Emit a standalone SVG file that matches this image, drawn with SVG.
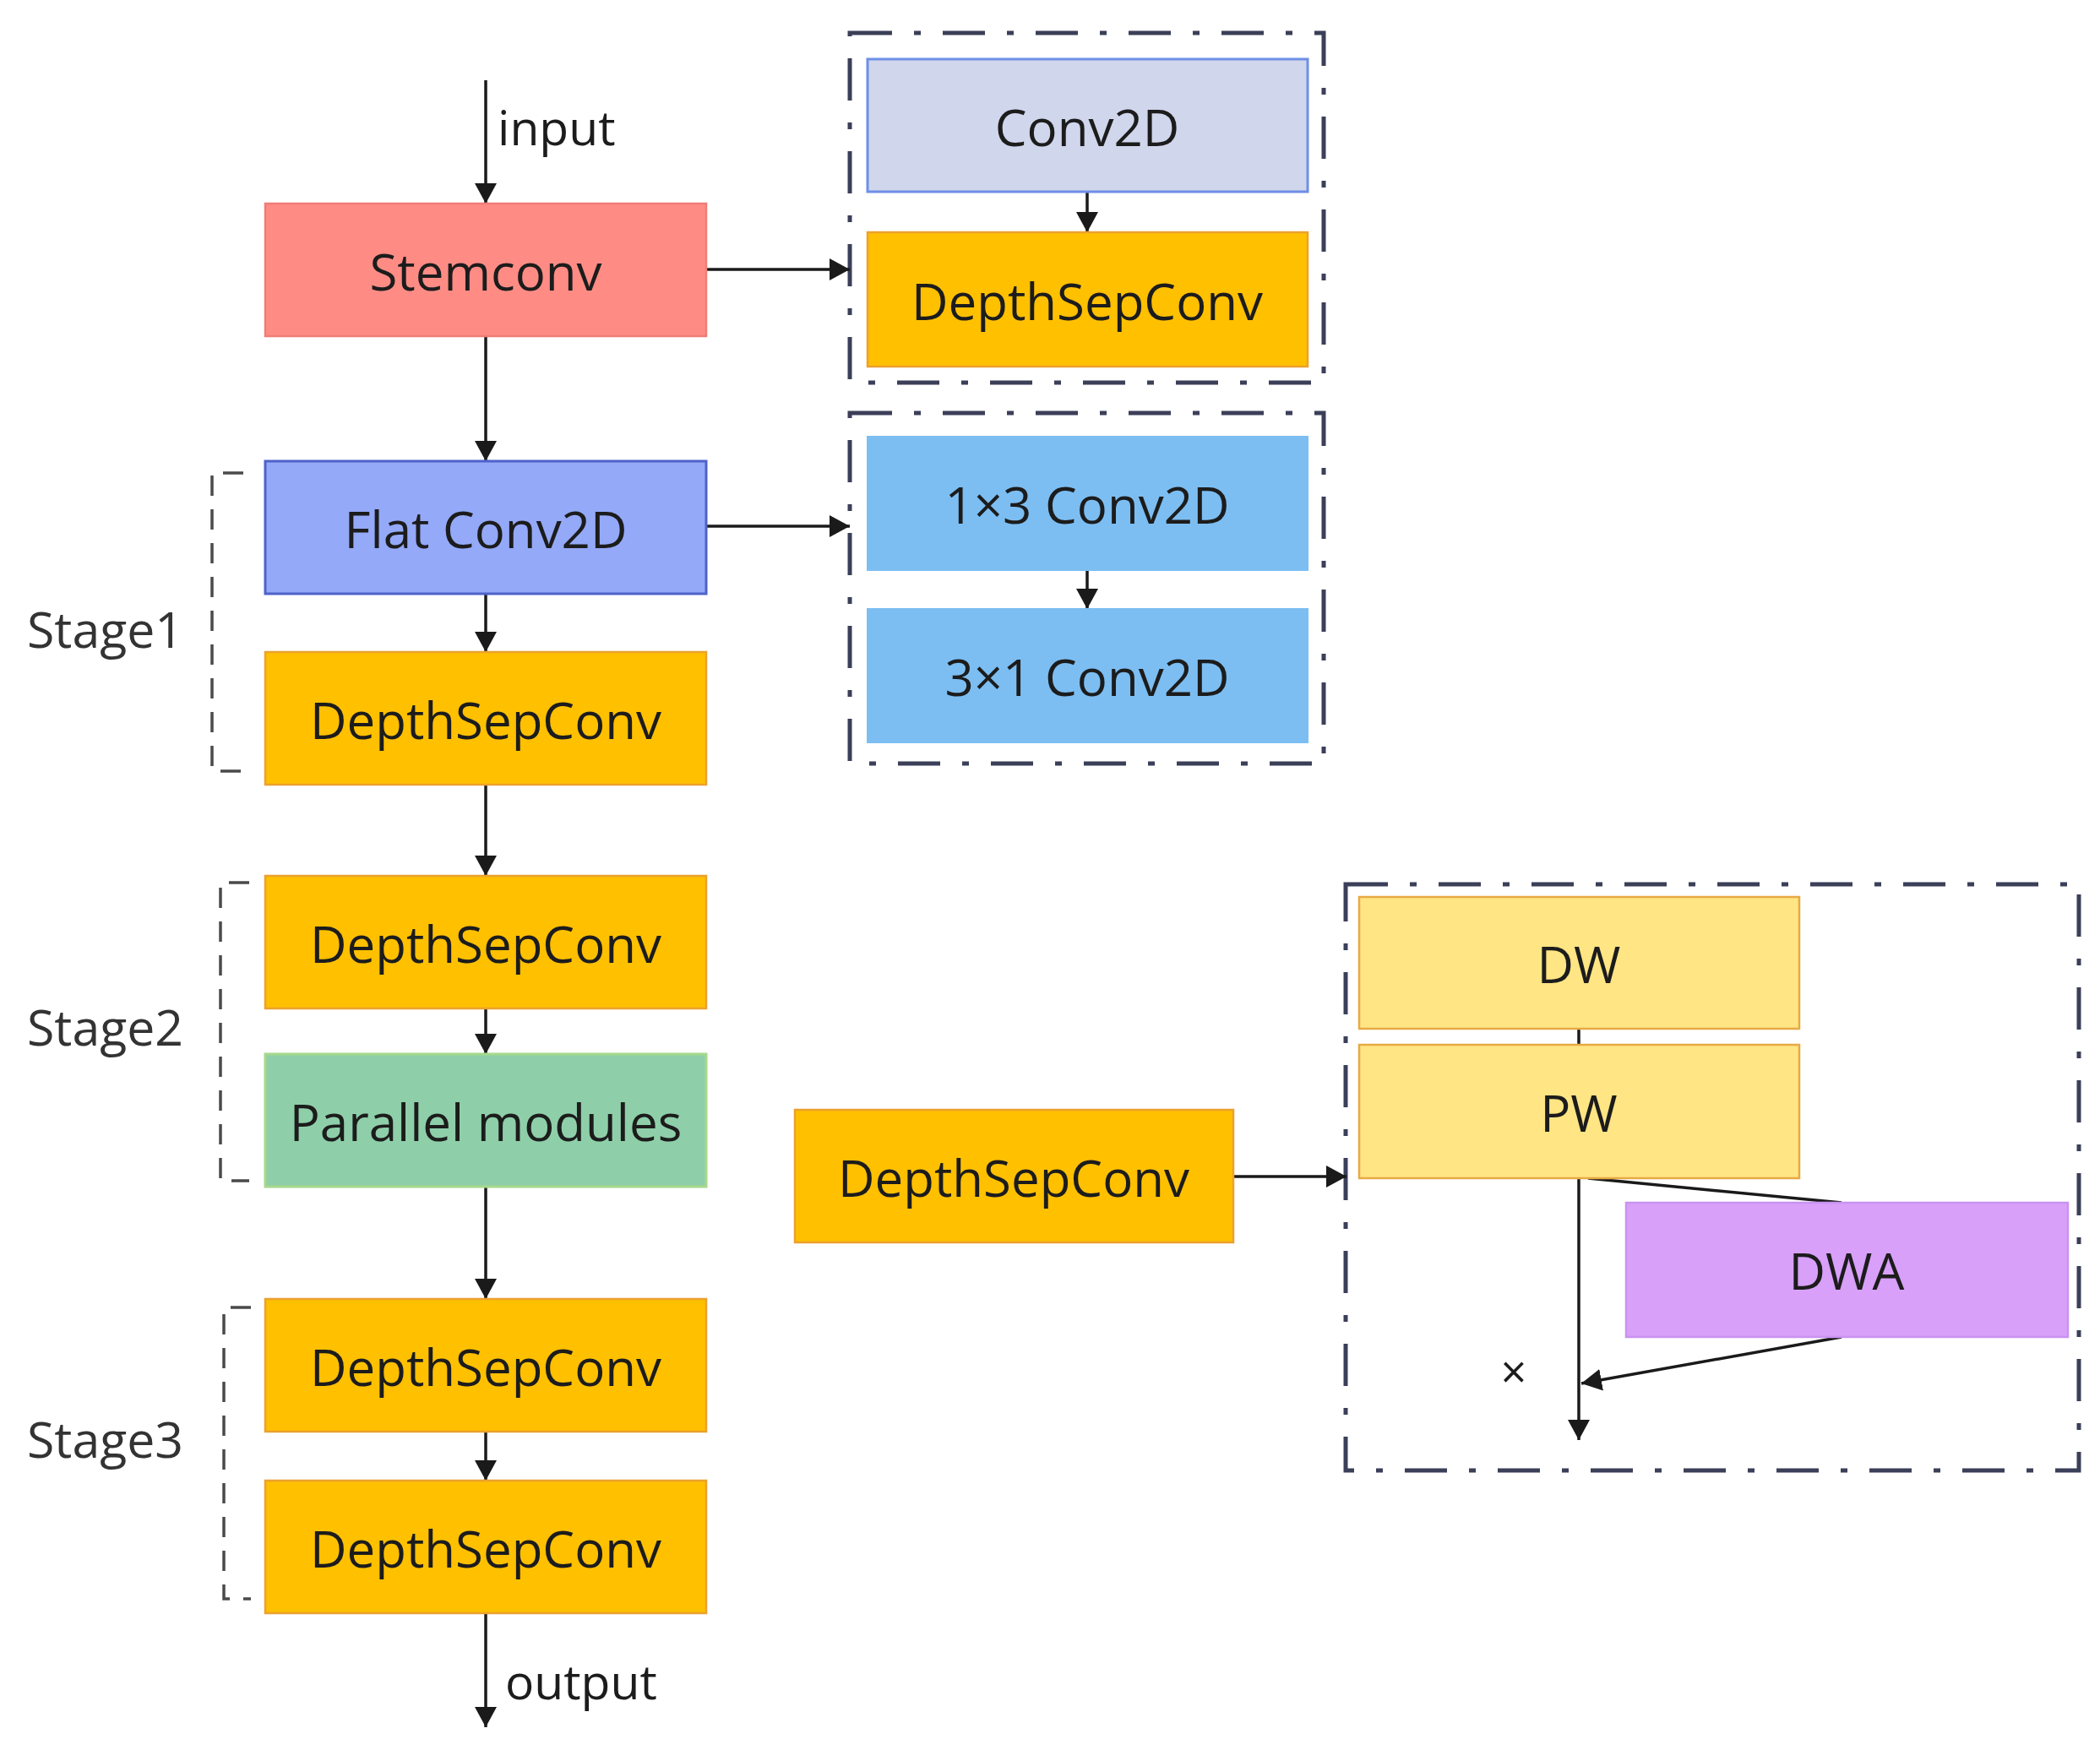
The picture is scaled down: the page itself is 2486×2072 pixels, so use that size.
<svg xmlns="http://www.w3.org/2000/svg" width="2486" height="2072" viewBox="0 0 2486 2072">
<style>
text{font-family:"Open Sans","Noto Sans","DejaVu Sans",sans-serif;fill:#1c1c1c}
.lbl{font-size:60px;text-anchor:middle}
.stage{font-size:59px;fill:#333}
.side{font-size:57px}
.conn{stroke:#1a1a1a;stroke-width:3.5;fill:none}
.frame{fill:none;stroke:#3b3f58;stroke-width:5;stroke-dasharray:50 26 8 26}
.brk{fill:none;stroke:#4a4a4a;stroke-width:3.5;stroke-dasharray:24 16}
.orange{fill:#FFC000;stroke:#EBA12E;stroke-width:2.5}
.blue{fill:#7CBEF2;stroke:#7CBEF2;stroke-width:2}
.yellow{fill:#FFE583;stroke:#E7AA45;stroke-width:2.5}
</style>
<defs>
<marker id="ah" viewBox="0 0 24 26" refX="24" refY="13" markerWidth="24" markerHeight="26" markerUnits="userSpaceOnUse" orient="auto">
<path d="M0,0 L24,13 L0,26 z" fill="#1a1a1a"/>
</marker>
</defs>
<rect width="2486" height="2072" fill="#ffffff"/>

<g id="frames">
<rect class="frame" x="1006" y="39" width="561" height="414"/>
<rect class="frame" x="1006" y="489" width="561" height="415"/>
<rect class="frame" x="1593" y="1047" width="868" height="694"/>
</g>

<g id="stages">
<path class="brk" d="M288,560 H251 V913 H288"/>
<text class="stage" x="32" y="767">Stage1</text>
<path class="brk" d="M295,1045 H261 V1398 H295"/>
<text class="stage" x="32" y="1238">Stage2</text>
<path class="brk" d="M297,1548 H265 V1893 H297"/>
<text class="stage" x="32" y="1726">Stage3</text>
</g>

<g id="connectors">
<line class="conn" x1="575" y1="95" x2="575" y2="241" marker-end="url(#ah)"/>
<line class="conn" x1="575" y1="398" x2="575" y2="546" marker-end="url(#ah)"/>
<line class="conn" x1="575" y1="703" x2="575" y2="772" marker-end="url(#ah)"/>
<line class="conn" x1="575" y1="929" x2="575" y2="1037" marker-end="url(#ah)"/>
<line class="conn" x1="575" y1="1194" x2="575" y2="1248" marker-end="url(#ah)"/>
<line class="conn" x1="575" y1="1405" x2="575" y2="1538" marker-end="url(#ah)"/>
<line class="conn" x1="575" y1="1695" x2="575" y2="1753" marker-end="url(#ah)"/>
<line class="conn" x1="575" y1="1910" x2="575" y2="2045" marker-end="url(#ah)"/>
<line class="conn" x1="836" y1="319" x2="1006" y2="319" marker-end="url(#ah)"/>
<line class="conn" x1="836" y1="623" x2="1006" y2="623" marker-end="url(#ah)"/>
<line class="conn" x1="1287" y1="227" x2="1287" y2="275" marker-end="url(#ah)"/>
<line class="conn" x1="1287" y1="675" x2="1287" y2="721" marker-end="url(#ah)"/>
<line class="conn" x1="1460" y1="1393" x2="1594" y2="1393" marker-end="url(#ah)"/>
<line class="conn" x1="1869" y1="1218" x2="1869" y2="1237"/>
<line class="conn" x1="1869" y1="1395" x2="1869" y2="1705" marker-end="url(#ah)"/>
<line class="conn" x1="1880" y1="1395" x2="2180" y2="1424"/>
<line class="conn" x1="2180" y1="1583" x2="1872" y2="1638" marker-end="url(#ah)"/>
<text class="side" x="589" y="172">input</text>
<text class="side" x="598" y="2012">output</text>
<text x="1792" y="1644" font-size="54" text-anchor="middle">×</text>
</g>

<g id="stemconv">
<rect x="314" y="241" width="522" height="157" fill="#FE8C85" stroke="#F07C76" stroke-width="2.5"/>
<text class="lbl" x="575" y="344">Stemconv</text>
</g>
<g id="flatconv">
<rect x="314" y="546" width="522" height="157" fill="#94A9F8" stroke="#4E63C9" stroke-width="3"/>
<text class="lbl" x="575" y="649">Flat Conv2D</text>
</g>
<g id="dsc1">
<rect class="orange" x="314" y="772" width="522" height="157"/>
<text class="lbl" x="575" y="875">DepthSepConv</text>
</g>
<g id="dsc2">
<rect class="orange" x="314" y="1037" width="522" height="157"/>
<text class="lbl" x="575" y="1140">DepthSepConv</text>
</g>
<g id="parallel">
<rect x="314" y="1248" width="522" height="157" fill="#8ECFA9" stroke="#A6D98C" stroke-width="3"/>
<text class="lbl" x="575" y="1351">Parallel modules</text>
</g>
<g id="dsc3a">
<rect class="orange" x="314" y="1538" width="522" height="157"/>
<text class="lbl" x="575" y="1641">DepthSepConv</text>
</g>
<g id="dsc3b">
<rect class="orange" x="314" y="1753" width="522" height="157"/>
<text class="lbl" x="575" y="1856">DepthSepConv</text>
</g>

<g id="conv2d">
<rect x="1027" y="70" width="521" height="157" fill="#D0D6EC" stroke="#6F8FE6" stroke-width="3"/>
<text class="lbl" x="1287" y="173">Conv2D</text>
</g>
<g id="dsc_top">
<rect class="orange" x="1027" y="275" width="521" height="159"/>
<text class="lbl" x="1287" y="379">DepthSepConv</text>
</g>
<g id="conv1x3">
<rect class="blue" x="1027" y="517" width="521" height="158"/>
<text class="lbl" x="1287" y="620">1×3 Conv2D</text>
</g>
<g id="conv3x1">
<rect class="blue" x="1027" y="721" width="521" height="158"/>
<text class="lbl" x="1287" y="824">3×1 Conv2D</text>
</g>

<g id="dsc_bottom">
<rect class="orange" x="941" y="1314" width="519" height="157"/>
<text class="lbl" x="1200" y="1417">DepthSepConv</text>
</g>
<g id="dw">
<rect class="yellow" x="1609" y="1062" width="521" height="156"/>
<text class="lbl" x="1869" y="1164">DW</text>
</g>
<g id="pw">
<rect class="yellow" x="1609" y="1237" width="521" height="158"/>
<text class="lbl" x="1869" y="1340">PW</text>
</g>
<g id="dwa">
<rect x="1925" y="1424" width="523" height="159" fill="#D8A0F9" stroke="#C993F0" stroke-width="2.5"/>
<text class="lbl" x="2186" y="1527">DWA</text>
</g>
</svg>
